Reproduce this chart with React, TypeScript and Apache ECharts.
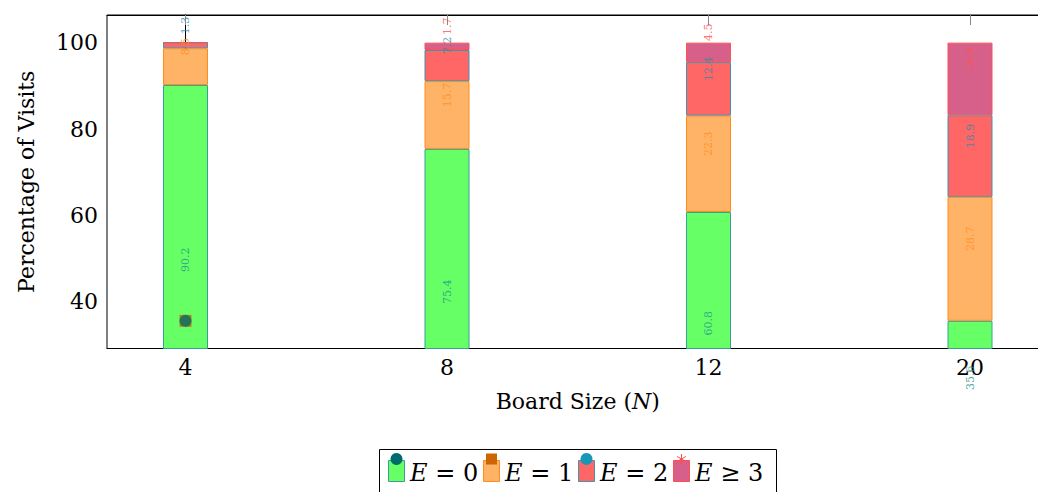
import { useEffect, useRef } from "react";
import * as echarts from "echarts";

// Board sizes on the x axis and the share of visits per E bucket
const boardSizes = ["4", "8", "12", "20"];
const visitsE0 = [90.2, 75.4, 60.8, 35.6];
const visitsE1 = [8.5, 15.7, 22.3, 28.7];
const visitsE2 = [1.3, 7.2, 12.4, 18.9];
const visitsE3 = [0, 1.7, 4.5, 16.8];
const yTickValues = [40, 60, 80, 100];
// a lone pair of plot marks sitting inside the first bar
const strayMark = [0, 35.6];

const SERIF = "DejaVu Serif";
const Y_MIN = 29.2;
const Y_MAX = 106.4;

const buckets = [
  { name: "E = 0", values: visitsE0, fill: "#66ff66", edge: "#3a9f9a", text: "#22958a" },
  { name: "E = 1", values: visitsE1, fill: "#ffb366", edge: "#ff8c1a", text: "#ff8c1a" },
  { name: "E = 2", values: visitsE2, fill: "#ff6666", edge: "#4a90b0", text: "#3388aa" },
  { name: "E ≥ 3", values: visitsE3, fill: "#d6608a", edge: "#ff5050", text: "#ff5050" },
];

function buildOption() {
  const xIdx = boardSizes.map((_, i) => i);
  const bottoms = boardSizes.map(() => 0);

  // bars and their labels live on a category grid (index 1); grid 0 draws the frame and axes
  const onBars = { xAxisIndex: 2, yAxisIndex: 1 };

  const barSeries: any[] = [];
  const labelSeries: any[] = [];
  buckets.forEach((b, k) => {
    barSeries.push({
      type: "bar",
      name: b.name,
      stack: "visits",
      barWidth: 45,
      ...onBars,
      data: b.values,
      itemStyle: { color: b.fill, borderColor: b.edge, borderWidth: 1 },
      z: 2,
    });
    const pts: any[] = [];
    b.values.forEach((v, i) => {
      if (v > 0) pts.push([i, bottoms[i] + v / 2, v]);
      bottoms[i] += v;
    });
    labelSeries.push({
      type: "scatter",
      name: b.name + " labels",
      ...onBars,
      data: pts,
      symbolSize: 0,
      clip: false,
      silent: true,
      z: 6 + k,
      label: {
        show: true,
        position: "inside",
        rotate: 90,
        offset: [20, 0],
        formatter: (p: any) => Number(p.value[2]).toFixed(1),
        color: b.text,
        fontFamily: SERIF,
        fontSize: 11,
      },
    });
  });

  const strayMarks = [
    {
      type: "scatter",
      ...onBars,
      data: [strayMark],
      symbol: "rect",
      symbolSize: 12,
      itemStyle: { color: "#cc6600" },
      z: 4,
      silent: true,
    },
    {
      type: "scatter",
      ...onBars,
      data: [strayMark],
      symbol: "circle",
      symbolSize: 12,
      itemStyle: { color: "#006b6b" },
      z: 5,
      silent: true,
    },
  ];

  // legend drawn by hand: swatch with its plot mark on top, then the math label
  const legendItems = [
    { sx: 388, tx: 410, mark: "circle", markColor: "#006b6b", label: "0", rel: "=" },
    { sx: 483, tx: 505, mark: "square", markColor: "#cc6600", label: "1", rel: "=" },
    { sx: 578, tx: 600, mark: "circle", markColor: "#1a97b8", label: "2", rel: "=" },
    { sx: 673, tx: 695, mark: "star", markColor: "#ff4d4d", label: "3", rel: "≥" },
  ];
  const graphics: any[] = [
    {
      type: "rect",
      shape: { x: 379.5, y: 449.5, width: 397, height: 60 },
      style: { fill: "#fff", stroke: "#000", lineWidth: 1 },
      z: 10,
    },
  ];
  legendItems.forEach((it, k) => {
    const b = buckets[k];
    graphics.push({
      type: "rect",
      shape: { x: it.sx + 0.5, y: 460.5, width: 16, height: 21 },
      style: { fill: b.fill, stroke: b.edge, lineWidth: 1 },
      z: 11,
    });
    const cx = it.sx + 8.5;
    const cy = 459;
    if (it.mark === "circle") {
      graphics.push({ type: "circle", shape: { cx, cy, r: 6 }, style: { fill: it.markColor }, z: 12 });
    } else if (it.mark === "square") {
      graphics.push({
        type: "rect",
        shape: { x: cx - 5.5, y: cy - 5.5, width: 11, height: 11 },
        style: { fill: it.markColor },
        z: 12,
      });
    } else {
      [0, 60, 120].forEach((deg) => {
        const a = (deg * Math.PI) / 180;
        const r = 5;
        graphics.push({
          type: "line",
          shape: {
            x1: cx - r * Math.sin(a),
            y1: cy - r * Math.cos(a),
            x2: cx + r * Math.sin(a),
            y2: cy + r * Math.cos(a),
          },
          style: { stroke: it.markColor, lineWidth: 1 },
          z: 12,
        });
      });
    }
    graphics.push({
      type: "text",
      x: it.tx,
      y: 473,
      style: {
        text: `{i|E} ${it.rel} ${it.label}`,
        fontFamily: SERIF,
        fontSize: 24,
        fill: "#000",
        verticalAlign: "middle",
        rich: { i: { fontStyle: "italic", fontFamily: SERIF, fontSize: 24 } },
      },
      z: 12,
    });
  });

  const frameX = {
    type: "value",
    gridIndex: 0,
    min: -0.3,
    max: 3.3,
    splitLine: { show: false },
    axisLine: { show: true, lineStyle: { color: "#000", width: 1 } },
    axisTick: {
      show: true,
      inside: true,
      length: 10,
      customValues: xIdx,
      lineStyle: { color: "#888" },
    },
  };

  return {
    animation: false,
    backgroundColor: "#fff",
    grid: [
      {
        left: 107,
        top: 15,
        right: -10.5,
        bottom: 143.5,
        containLabel: false,
        outerBoundsMode: "none",
        show: true,
        borderColor: "#000",
        borderWidth: 1,
      },
      {
        left: 54.75,
        top: 15,
        right: -62.75,
        bottom: 143.5,
        containLabel: false,
        outerBoundsMode: "none",
        show: false,
      },
    ],
    xAxis: [
      {
        ...frameX,
        position: "bottom",
        name: "Board Size ({n|N})",
        nameLocation: "middle",
        nameGap: 42,
        nameTextStyle: {
          fontFamily: SERIF,
          fontSize: 22,
          color: "#000",
          rich: { n: { fontStyle: "italic", fontFamily: SERIF, fontSize: 22, color: "#000" } },
        },
        axisLabel: {
          customValues: xIdx,
          formatter: (v: number) => boardSizes[Math.round(v)] ?? "",
          fontFamily: SERIF,
          fontSize: 22,
          color: "#000",
          margin: 8,
        },
      },
      {
        ...frameX,
        position: "top",
        axisLabel: { show: false },
      },
      {
        type: "category",
        gridIndex: 1,
        data: boardSizes,
        boundaryGap: true,
        show: false,
      },
    ],
    yAxis: [
      {
        type: "value",
        gridIndex: 0,
        min: Y_MIN,
        max: Y_MAX,
        splitLine: { show: false },
        axisLine: { show: true, lineStyle: { color: "#000", width: 1 } },
        axisTick: {
          show: true,
          inside: true,
          length: 11,
          customValues: yTickValues,
          lineStyle: { color: "#999" },
        },
        axisLabel: {
          customValues: yTickValues,
          fontFamily: SERIF,
          fontSize: 22,
          color: "#000",
          margin: 9,
        },
        name: "Percentage of Visits",
        nameLocation: "middle",
        nameGap: 70,
        nameTextStyle: { fontFamily: SERIF, fontSize: 22, color: "#000" },
      },
      {
        type: "value",
        gridIndex: 1,
        min: Y_MIN,
        max: Y_MAX,
        show: false,
        splitLine: { show: false },
      },
    ],
    series: [...barSeries, ...strayMarks, ...labelSeries],
    graphic: graphics,
  };
}

export default function App() {
  const ref = useRef<HTMLDivElement>(null);
  useEffect(() => {
    if (!ref.current) return;
    const chart = echarts.init(ref.current, undefined, { renderer: "svg" });
    chart.setOption(buildOption() as any);
    return () => chart.dispose();
  }, []);
  return (
    <div
      ref={ref}
      style={{ position: "absolute", left: 0, top: 0, width: 1038, height: 492, background: "#fff" }}
    />
  );
}
